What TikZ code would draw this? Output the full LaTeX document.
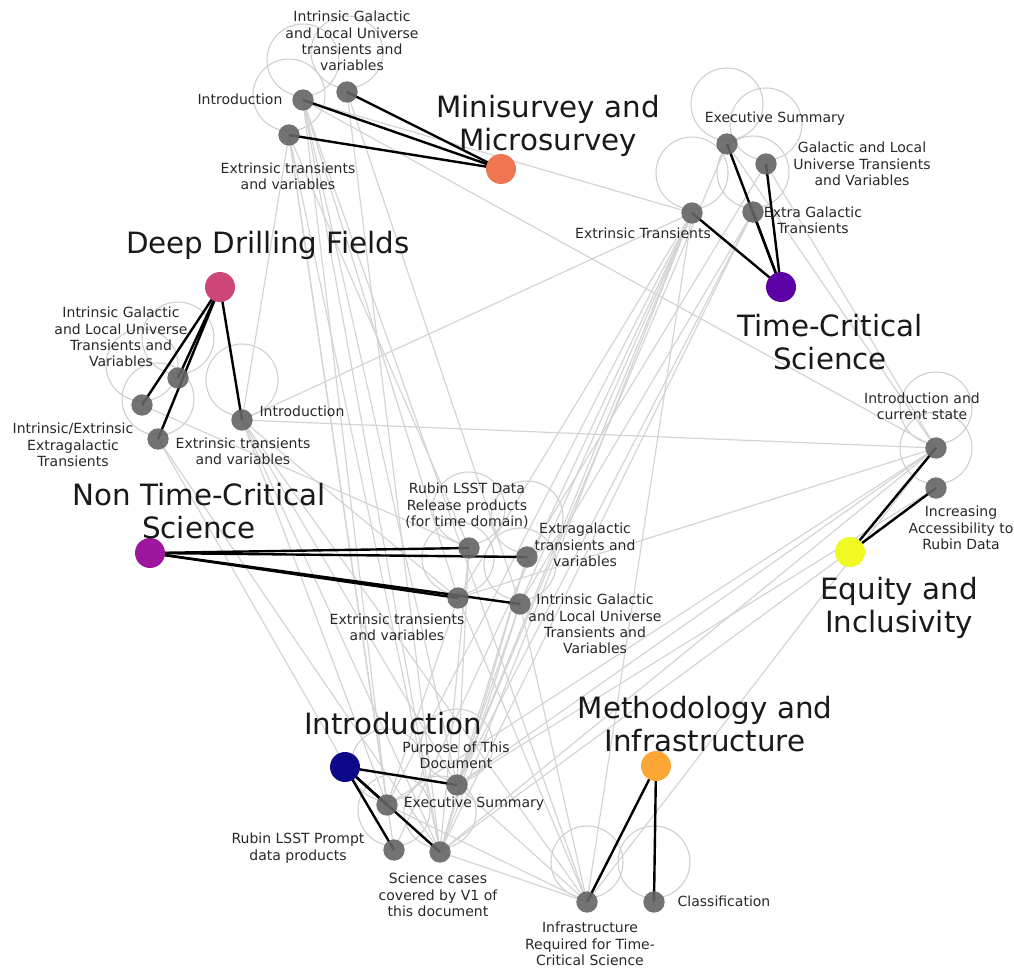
\documentclass[tikz,border=0pt]{standalone}
\usepackage{fontspec}
\setmainfont{DejaVu Sans}
\usetikzlibrary{backgrounds}
\definecolor{subgray}{RGB}{100,100,100}
\definecolor{edgegray}{RGB}{212,212,212}
\definecolor{loopgray}{RGB}{205,205,205}
\definecolor{cMini}{HTML}{EE7650}
\definecolor{cDeep}{HTML}{CC4778}
\definecolor{cTime}{HTML}{5C01A6}
\definecolor{cEq}{HTML}{F0F921}
\definecolor{cNon}{HTML}{9C179E}
\definecolor{cIntro}{HTML}{0D0887}
\definecolor{cMeth}{HTML}{FCA636}
\definecolor{txt}{RGB}{40,40,40}
\tikzset{
  sub/.style={circle, fill=subgray, fill opacity=0.9, minimum size=16pt, inner sep=0pt},
  mainnode/.style={circle, minimum size=22.5pt, inner sep=0pt},
  lbl/.style={align=center, inner sep=0pt, text=txt, font=\fontsize{10.5}{12.3}\selectfont},
  big/.style={align=center, inner sep=0pt, text=black!90, font=\fontsize{22}{24.7}\selectfont},
  tree/.style={black, line width=1.8pt},
  xref/.style={edgegray, line width=0.9pt},
  selfloop/.style={loopgray, line width=0.8pt},
}
\begin{document}
\begin{tikzpicture}[x=0.75pt, y=-0.75pt]
\useasboundingbox (0,0) rectangle (1014,970);

% main nodes
\node[mainnode, fill=cMini]  (M)  at (501,169) {};
\node[mainnode, fill=cDeep]  (D)  at (220,287) {};
\node[mainnode, fill=cTime]  (T)  at (781,287) {};
\node[mainnode, fill=cEq]    (E)  at (850,552) {};
\node[mainnode, fill=cNon]   (N)  at (150,553) {};
\node[mainnode, fill=cIntro] (I)  at (345,767) {};
\node[mainnode, fill=cMeth]  (MI) at (656,766) {};

% sub nodes
\node[sub] (m_intro) at (303,100) {};
\node[sub] (m_igal)  at (347,92) {};
\node[sub] (m_ext)   at (289,135) {};
\node[sub] (t_exec)  at (727,144) {};
\node[sub] (t_gal)   at (766,164) {};
\node[sub] (t_extra) at (753,212) {};
\node[sub] (t_ext)   at (692,213) {};
\node[sub] (d_igal)  at (178,378) {};
\node[sub] (d_ie)    at (142,405) {};
\node[sub] (d_ext)   at (158,439) {};
\node[sub] (d_intro) at (242,420) {};
\node[sub] (e_intro) at (936,448) {};
\node[sub] (e_acc)   at (936,488) {};
\node[sub] (n_rubin) at (469,548) {};
\node[sub] (n_extra) at (527,557) {};
\node[sub] (n_ext)   at (458,598) {};
\node[sub] (n_igal)  at (520,604) {};
\node[sub] (i_purp)  at (457,785) {};
\node[sub] (i_exec)  at (387,805) {};
\node[sub] (i_rubin) at (394,850) {};
\node[sub] (i_sci)   at (440,852) {};
\node[sub] (mi_infra) at (587,902) {};
\node[sub] (mi_class) at (654,902) {};

\begin{scope}[on background layer]
% self loops
\foreach \n in {m_intro,m_igal,m_ext,t_exec,t_gal,t_extra,t_ext,d_igal,d_ie,d_ext,d_intro,e_intro,e_acc,n_rubin,n_extra,n_ext,n_igal,i_purp,i_exec,i_rubin,i_sci,mi_infra,mi_class}
  \draw[selfloop] ([yshift=30pt]\n.center) circle [radius=27pt];
% cross-reference edges
\foreach \a/\b in {
  m_intro/t_ext, m_intro/e_intro, m_intro/i_sci, m_intro/i_purp, m_intro/mi_infra, m_intro/n_ext, m_intro/i_exec,
  m_ext/d_intro, m_ext/i_rubin, m_ext/i_sci, m_ext/n_rubin, m_ext/i_exec,
  m_igal/i_sci, m_igal/n_igal,
  d_intro/t_ext, d_intro/e_intro, d_intro/i_sci, d_intro/i_exec, d_intro/i_purp, d_intro/mi_infra, d_intro/n_ext,
  d_ext/i_rubin, d_ext/i_sci, d_ie/n_rubin,
  t_ext/i_sci, t_ext/i_purp, t_ext/i_exec, t_ext/i_rubin, t_ext/n_ext, t_ext/n_igal, t_ext/mi_infra,
  t_extra/i_sci, t_extra/i_purp, t_extra/n_igal,
  t_exec/e_intro, t_exec/i_purp, t_gal/e_intro, t_gal/n_extra,
  e_intro/i_sci, e_intro/i_purp, e_intro/mi_infra, e_intro/n_ext, e_intro/i_exec,
  e_acc/i_sci, e_acc/i_purp,
  n_rubin/i_sci, n_rubin/i_purp, n_extra/i_sci, n_extra/i_purp,
  n_ext/mi_infra, n_ext/i_exec, n_igal/i_purp, n_igal/i_sci, n_igal/mi_infra,
  i_sci/mi_infra, i_purp/mi_infra, i_exec/mi_infra}
  \draw[xref] (\a.center) -- (\b.center);
% tree edges
\foreach \a/\b in {M/m_intro, M/m_igal, M/m_ext,
  T/t_exec, T/t_gal, T/t_extra, T/t_ext,
  D/d_igal, D/d_ie, D/d_ext, D/d_intro,
  E/e_intro, E/e_acc,
  N/n_rubin, N/n_extra, N/n_ext, N/n_igal,
  I/i_purp, I/i_exec, I/i_rubin, I/i_sci,
  MI/mi_infra, MI/mi_class}
  \draw[tree] (\a.center) -- (\b.center);
\end{scope}

% big labels
\node[big] (lM)  at (548,126) {Minisurvey and\\Microsurvey};
\node[big] (lD)  at (268,245) {Deep Drilling Fields};
\node[big] (lT)  at (830,342) {Time-Critical\\Science};
\node[big] (lE)  at (899,608) {Equity and\\Inclusivity};
\node[big] (lN)  at (199,511) {Non Time-Critical\\Science};
\node[big] (lI)  at (393,724) {Introduction};
\node[big] (lMI) at (705,724) {Methodology and\\Infrastructure};

% small labels
\node[lbl] (l_m_igal)  at (352,41)  {Intrinsic Galactic\\and Local Universe\\transients and\\variables};
\node[lbl] (l_m_intro) at (240,99)  {Introduction};
\node[lbl] (l_m_ext)   at (288,176) {Extrinsic transients\\and variables};
\node[lbl] (l_t_exec)  at (775,119) {Executive Summary};
\node[lbl] (l_t_gal)   at (862,164) {Galactic and Local\\Universe Transients\\and Variables};
\node[lbl] (l_t_extra) at (813,220) {Extra Galactic\\Transients};
\node[lbl] (l_t_ext)   at (643,233) {Extrinsic Transients};
\node[lbl] (l_d_igal)  at (121,337) {Intrinsic Galactic\\and Local Universe\\Transients and\\Variables};
\node[lbl] (l_d_ie)    at (73,445)  {Intrinsic/Extrinsic\\Extragalactic\\Transients};
\node[lbl] (l_d_ext)   at (243,451) {Extrinsic transients\\and variables};
\node[lbl] (l_d_intro) at (302,411) {Introduction};
\node[lbl] (l_e_intro) at (922,406) {Introduction and\\current state};
\node[lbl] (l_e_acc)   at (961,528) {Increasing\\Accessibility to\\Rubin Data};
\node[lbl] (l_n_rubin) at (467,506) {Rubin LSST Data\\Release products\\(for time domain)};
\node[lbl] (l_n_extra) at (585,545) {Extragalactic\\transients and\\variables};
\node[lbl] (l_n_ext)   at (397,627) {Extrinsic transients\\and variables};
\node[lbl] (l_n_igal)  at (595,624) {Intrinsic Galactic\\and Local Universe\\Transients and\\Variables};
\node[lbl] (l_i_purp)  at (456,755) {Purpose of This\\Document};
\node[lbl] (l_i_exec)  at (474,804) {Executive Summary};
\node[lbl] (l_i_rubin) at (298,848) {Rubin LSST Prompt\\data products};
\node[lbl] (l_i_sci)   at (438,895) {Science cases\\covered by V1 of\\this document};
\node[lbl] (l_mi_infra) at (590,944) {Infrastructure\\Required for Time-\\Critical Science};
\node[lbl] (l_mi_class) at (724,901) {Classification};
\end{tikzpicture}
\end{document}
